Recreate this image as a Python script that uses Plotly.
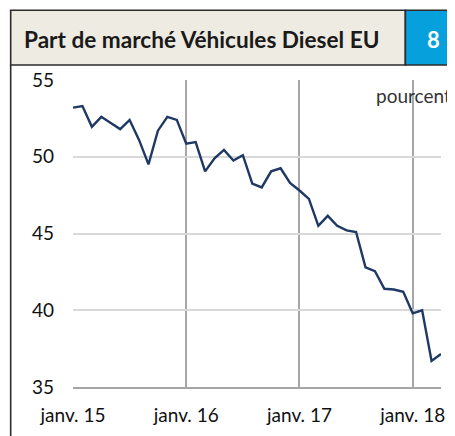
import plotly.graph_objects as go

# ---- data ----
months = [f"{y}-{m:02d}" for y in (2015, 2016, 2017, 2018) for m in range(1, 13)][:40]
values_2015 = [53.2, 53.3, 51.95, 52.6, 52.2, 51.8, 52.4, 51.1, 49.5, 51.7, 52.6, 52.4]
values_2016 = [50.85, 50.95, 49.05, 49.9, 50.45, 49.75, 50.1, 48.25, 48.0, 49.05, 49.25, 48.3]
values_2017 = [47.8, 47.25, 45.5, 46.15, 45.5, 45.2, 45.1, 42.8, 42.55, 41.4, 41.35, 41.2]
values_2018 = [39.8, 40.0, 36.7, 37.15]
values = values_2015 + values_2016 + values_2017 + values_2018

tick_vals = ["2015-01", "2016-01", "2017-01", "2018-01"]
tick_text = ["janv. 15", "janv. 16", "janv. 17", "janv. 18"]
title_text = "Part de marché Véhicules Diesel EU"
badge_text = "8"
unit_text = "pourcent"

# ---- layout geometry (screen pixels; page body has an 8px margin) ----
OFF = 8
W, H = 455 - OFF, 436 - OFF
L, R, T, B = 73 - OFF, 445 - OFF, 80 - OFF, 388 - OFF
PW, PH = R - L, B - T


def px(x):
    return (x - OFF - L) / PW


def py(y):
    return (B - (y - OFF)) / PH


FONT = "Lato"

fig = go.Figure()
fig.add_trace(go.Scatter(
    x=months, y=values, mode="lines",
    line=dict(color="#1F3864", width=2.4),
    hoverinfo="skip", showlegend=False,
))

shapes = [
    dict(type="rect", xref="paper", yref="paper",
         x0=px(10), x1=px(409), y0=py(65), y1=py(10),
         fillcolor="#EEEBE2", line=dict(color="#2B2B2B", width=1.6), layer="above"),
    dict(type="rect", xref="paper", yref="paper",
         x0=px(409), x1=px(470), y0=py(65), y1=py(10),
         fillcolor="#06A0DC", line=dict(color="#2B2B2B", width=1.6), layer="above"),
    dict(type="line", xref="paper", yref="paper",
         x0=px(10), x1=px(10), y0=py(65), y1=py(445),
         line=dict(color="#2B2B2B", width=1.6), layer="above"),
]

annotations = [
    dict(text=f"<b>{title_text}</b>", xref="paper", yref="paper",
         x=px(21), y=py(39), xanchor="left", yanchor="middle", showarrow=False,
         font=dict(family=FONT, size=22.6, color="#1A1A1A")),
    dict(text=f"<b>{badge_text}</b>", xref="paper", yref="paper",
         x=px(437), y=py(39), xanchor="center", yanchor="middle", showarrow=False,
         font=dict(family=FONT, size=22, color="#FFFFFF")),
    dict(text=unit_text, xref="paper", yref="paper",
         x=px(377), y=py(96), xanchor="left", yanchor="middle", showarrow=False,
         font=dict(family=FONT, size=19, color="#333333")),
]

fig.update_layout(
    width=W, height=H,
    margin=dict(l=L, r=W - R, t=T, b=H - B, pad=0),
    paper_bgcolor="white", plot_bgcolor="white",
    shapes=shapes, annotations=annotations,
    font=dict(family=FONT, size=19, color="#111111"),
    xaxis=dict(
        type="category", range=[0, len(months) - 1],
        tickmode="array", tickvals=tick_vals, ticktext=tick_text,
        showgrid=True, gridcolor="#A6A6A6", gridwidth=1.6,
        showline=True, linecolor="#A6A6A6", linewidth=1.6,
        ticks="", ticklabelstandoff=10, zeroline=False,
        tickfont=dict(family=FONT, size=19, color="#111111"),
        fixedrange=True,
    ),
    yaxis=dict(
        range=[35, 55], tickmode="array", tickvals=[35, 40, 45, 50, 55],
        showgrid=True, gridcolor="#D9D9D9", gridwidth=1.6,
        showline=False, ticks="", ticklabelstandoff=18, zeroline=False,
        tickfont=dict(family=FONT, size=19, color="#111111"),
        fixedrange=True,
    ),
)

fig.write_html("out.html")
